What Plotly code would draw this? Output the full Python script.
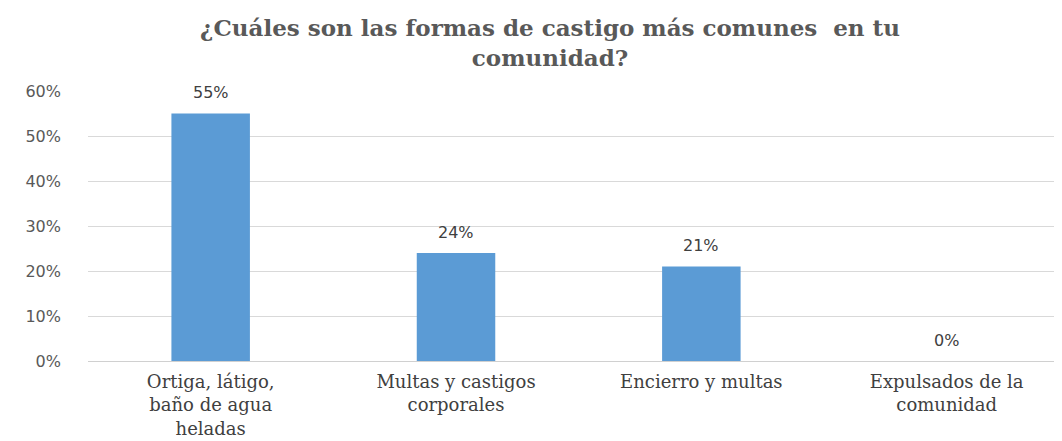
import plotly.graph_objects as go

categories = ["Ortiga, látigo,<br>baño de agua<br>heladas",
              "Multas y castigos<br>corporales",
              "Encierro y multas",
              "Expulsados de la<br>comunidad"]
values = [0.55, 0.24, 0.21, 0.0]
labels = ["55%", "24%", "21%", "0%"]
y_ticks = [0, 0.1, 0.2, 0.3, 0.4, 0.5, 0.6]
y_tick_text = ["0%", "10%", "20%", "30%", "40%", "50%", "60%"]

x_idx = list(range(len(categories)))

fig = go.Figure(go.Bar(
    x=x_idx, y=values, width=0.32,
    marker=dict(color="#5b9bd5", line=dict(width=0)),
    hoverinfo="skip",
))

for xi, v, lab in zip(x_idx, values, labels):
    fig.add_annotation(
        x=xi, y=v, xref="x", yref="y", text=lab, showarrow=False,
        yanchor="middle", yshift=21,
        font=dict(family="DejaVu Sans", size=16, color="#404040"),
    )

# page body adds an 8px offset; compensate with figure size/margins
W, H = 1054, 433
fig.update_layout(
    width=W, height=H,
    margin=dict(l=80, r=0, t=83, b=80),
    paper_bgcolor="white", plot_bgcolor="white",
    showlegend=False,
    title=dict(
        text="¿Cuáles son las formas de castigo más comunes  en tu<br>comunidad?",
        x=(550 - 8) / W, xanchor="center", xref="container",
        y=1 - (36 - 8) / H, yanchor="middle", yref="container",
        font=dict(family="DejaVu Serif", size=23, color="#595959", weight="bold"),
    ),
    xaxis=dict(
        range=[-0.5, 3.47], tickmode="array", tickvals=x_idx, ticktext=categories,
        showgrid=False, showline=False, zeroline=False, ticks="",
        automargin=False, ticklabelstandoff=8,
        tickfont=dict(family="DejaVu Serif", size=18, color="#404040"),
    ),
    yaxis=dict(
        range=[0, 0.6], tickmode="array", tickvals=y_ticks, ticktext=y_tick_text,
        showgrid=True, gridcolor="#d9d9d9", gridwidth=1,
        zeroline=True, zerolinecolor="#d0d0d0", zerolinewidth=1,
        showline=False, ticks="", ticklabelstandoff=26, automargin=False,
        tickfont=dict(family="DejaVu Sans", size=16, color="#595959"),
    ),
)

fig.write_html("out.html")
